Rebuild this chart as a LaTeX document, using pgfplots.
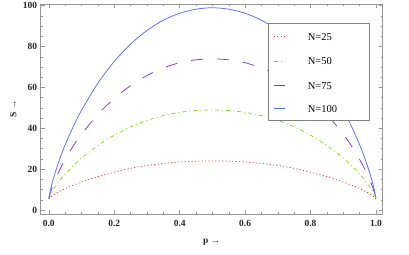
\documentclass[border=0pt]{standalone}
\usepackage{fontspec}
\setmainfont{Liberation Serif}
\usepackage{pgfplots}
\pgfplotsset{compat=1.18}
\usepackage{pgfplotstable}

\definecolor{cred}{RGB}{240,60,60}
\definecolor{cgreen}{RGB}{120,225,30}
\definecolor{cpurple}{RGB}{130,50,220}
\definecolor{cblue}{RGB}{85,110,250}
\definecolor{cframe}{RGB}{150,150,150}

\pgfplotstableread{
p a b c d
0.000 5.3 5.5 5.6 5.8
0.005 6.3 7.4 8.6 9.7
0.010 6.9 9.0 11.0 13.0
0.020 8.0 11.5 15.1 18.6
0.040 9.7 15.8 21.8 27.9
0.060 11.2 19.3 27.5 35.7
0.080 12.5 22.5 32.6 42.6
0.100 13.7 25.4 37.1 48.8
0.150 16.3 31.6 46.8 62.1
0.200 18.5 36.6 54.6 72.7
0.250 20.4 40.7 60.9 81.2
0.300 21.8 43.8 65.8 87.9
0.350 22.8 46.2 69.5 92.9
0.400 23.5 47.8 72.1 96.3
0.450 23.9 48.7 73.5 98.3
0.500 24.0 49.0 74.0 99.0
0.550 23.9 48.7 73.5 98.3
0.600 23.5 47.8 72.1 96.3
0.650 22.8 46.2 69.5 92.9
0.700 21.8 43.8 65.8 87.9
0.750 20.4 40.7 60.9 81.2
0.800 18.5 36.6 54.6 72.7
0.850 16.3 31.6 46.8 62.1
0.900 13.7 25.4 37.1 48.8
0.920 12.5 22.5 32.6 42.6
0.940 11.2 19.3 27.5 35.7
0.960 9.7 15.8 21.8 27.9
0.980 8.0 11.5 15.1 18.6
0.990 6.9 9.0 11.0 13.0
0.995 6.3 7.4 8.6 9.7
1.000 5.3 5.5 5.6 5.8
}\datatable

\begin{document}
\begin{tikzpicture}
\begin{axis}[
  scale only axis, width=342bp, height=210bp,
  xmin=-0.0248, xmax=1.0205, ymin=-1.96, ymax=100.83,
  axis line style={draw=cframe, line width=0.6bp},
  xtick={0,0.2,0.4,0.6,0.8,1}, ytick={0,20,40,60,80,100},
  minor x tick num=3, minor y tick num=3,
  tick align=inside, major tick length=4bp, minor tick length=2bp,
  tick style={cframe, line width=0.5bp},
  /pgf/number format/assume math mode=true,
  ticklabel style={font=\fontsize{9.5}{11}\selectfont\bfseries, text=black!85},
  xticklabel style={anchor=center, yshift=-9.3bp, inner sep=0pt,
    /pgf/number format/.cd, fixed, fixed zerofill, precision=1},
  yticklabel style={anchor=east, xshift=-3.4bp, inner sep=0pt},
  xlabel={p →}, ylabel={S →},
  label style={font=\fontsize{9.5}{11}\selectfont\bfseries, text=black!85},
  xlabel style={at={(axis description cs:0.5,-0.1333)}, anchor=center},
  ylabel style={at={(axis description cs:-0.0801,0.5)}, anchor=center},
]
\coordinate (sw) at (rel axis cs:0,0);
\coordinate (ne) at (rel axis cs:1,1);
\addplot[cred, line width=0.75bp, dash pattern=on 1.2bp off 2.2bp, smooth] table[x=p,y=a]{\datatable};
\addplot[cgreen, line width=0.75bp, dash pattern=on 4bp off 3bp on 1bp off 3bp, smooth] table[x=p,y=b]{\datatable};
\addplot[cpurple, line width=0.75bp, dash pattern=on 12bp off 14bp, smooth] table[x=p,y=c]{\datatable};
\addplot[cblue, line width=0.75bp, smooth] table[x=p,y=d]{\datatable};
% legend box
\fill[gray!60] ([xshift=1.2bp,yshift=-1.2bp]rel axis cs:0.6667,0.9095) rectangle ([xshift=1.2bp,yshift=-1.2bp]rel axis cs:0.9608,0.4476);
\draw[cframe!85!black, line width=0.6bp, fill=white] (rel axis cs:0.6667,0.9095) rectangle (rel axis cs:0.9608,0.4476);
\draw[cred, line width=1bp, dash pattern=on 1.2bp off 2.2bp] (rel axis cs:0.6813,0.8429) -- (rel axis cs:0.7135,0.8429);
\draw[cgreen, line width=1bp, dash pattern=on 4bp off 3bp on 1bp off 3bp] (rel axis cs:0.6813,0.7271) -- (rel axis cs:0.7135,0.7271);
\draw[cpurple, line width=1bp] (rel axis cs:0.6813,0.6110) -- (rel axis cs:0.7135,0.6110);
\draw[cblue, line width=1bp] (rel axis cs:0.6813,0.5) -- (rel axis cs:0.7135,0.5);
\node[anchor=west, inner sep=0pt, font=\fontsize{10.5}{12}\selectfont] at (rel axis cs:0.7807,0.8429) {N=25};
\node[anchor=west, inner sep=0pt, font=\fontsize{10.5}{12}\selectfont] at (rel axis cs:0.7807,0.7271) {N=50};
\node[anchor=west, inner sep=0pt, font=\fontsize{10.5}{12}\selectfont] at (rel axis cs:0.7807,0.6110) {N=75};
\node[anchor=west, inner sep=0pt, font=\fontsize{10.5}{12}\selectfont] at (rel axis cs:0.7807,0.5) {N=100};
\end{axis}
\pgfresetboundingbox
\path ([xshift=-40.7bp,yshift=-41bp]sw) rectangle ([xshift=26.3bp,yshift=4bp]ne);
\end{tikzpicture}
\end{document}
